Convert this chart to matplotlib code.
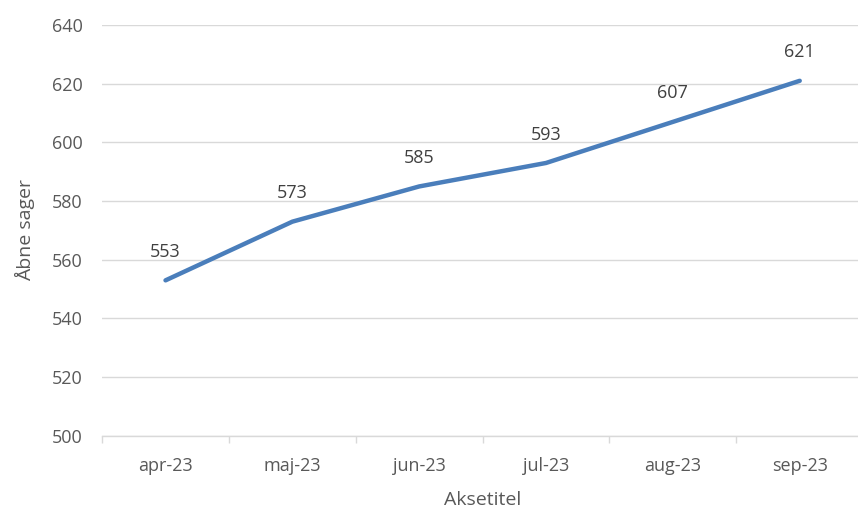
import numpy as np
import matplotlib.pyplot as plt

plt.rcParams['font.family'] = ['Open Sans', 'DejaVu Sans']

# data
months = ['apr-23', 'maj-23', 'jun-23', 'jul-23', 'aug-23', 'sep-23']
open_cases = [553, 573, 585, 593, 607, 621]

text_col = '#595959'
grid_col = '#d9d9d9'
line_col = '#4a7ebb'

fig = plt.figure(figsize=(8.58, 5.11), dpi=100)
# plot area runs a few px past the right edge, like the source image
ax = fig.add_axes([0.119, 0.147, 0.887, 0.804])

x = np.arange(len(months))
ax.plot(x, open_cases, color=line_col, lw=3.2, solid_capstyle='round')

for xi, v in zip(x, open_cases):
    ax.annotate(str(v), (xi, v), xytext=(0, 14), textcoords='offset points',
                ha='center', va='bottom', fontsize=13, color='#404040')

ax.set_xlim(-0.5, len(months) - 0.5)
ax.set_ylim(500, 640)
ax.set_yticks(range(500, 641, 20))
ax.set_xticks(x)
ax.set_xticklabels(months)
ax.set_xticks(np.arange(-0.5, len(months), 1), minor=True)

ax.grid(axis='y', color=grid_col, lw=1)
ax.set_axisbelow(True)
for s in ['top', 'right', 'left']:
    ax.spines[s].set_visible(False)
ax.spines['bottom'].set_color(grid_col)
ax.spines['bottom'].set_linewidth(1)

ax.tick_params(axis='y', length=0, pad=14, labelsize=13, labelcolor=text_col)
ax.tick_params(axis='x', which='major', length=0, pad=15, labelsize=13, labelcolor=text_col)
ax.tick_params(axis='x', which='minor', length=5, color=grid_col, width=1)

ax.set_ylabel('Åbne sager', fontsize=14, color=text_col, labelpad=12)
ax.set_xlabel('Aksetitel', fontsize=14, color=text_col, labelpad=12)

fig.savefig('out.png', dpi=100)
